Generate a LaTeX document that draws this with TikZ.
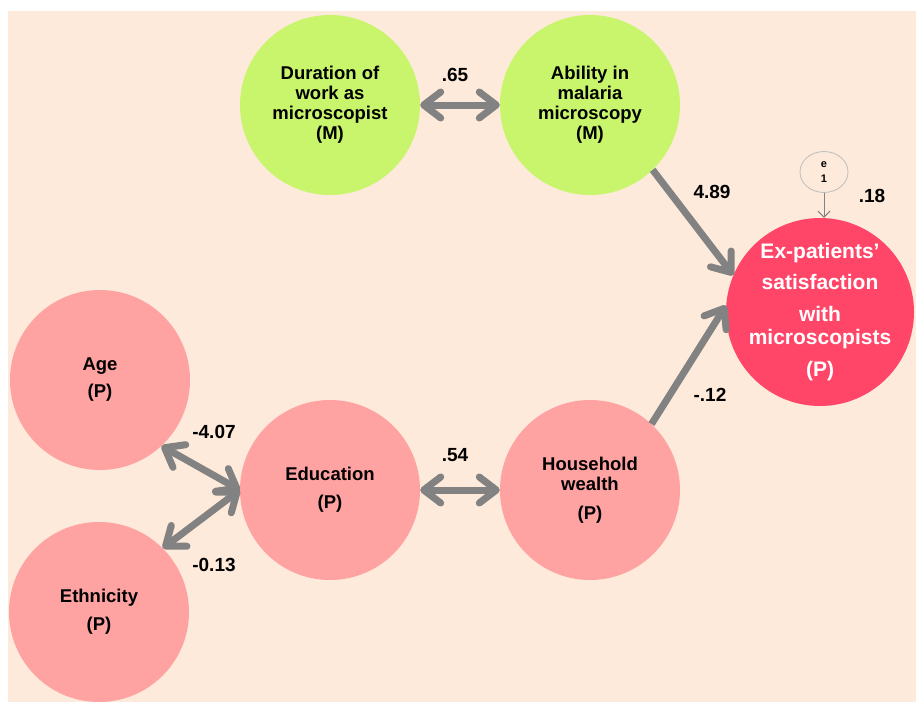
\documentclass[tikz,border=0pt]{standalone}
\usepackage{fontspec}
\setmainfont{Liberation Sans}
\usetikzlibrary{arrows.meta, shapes.geometric}

\definecolor{bgpeach}{HTML}{FDEADA}
\definecolor{limegreen}{HTML}{C8F56C}
\definecolor{softpink}{HTML}{FFA2A2}
\definecolor{hotred}{HTML}{FF4668}
\definecolor{arrowgrey}{HTML}{828282}
\definecolor{ringgrey}{HTML}{BDBDBD}

\tikzset{
  varbase/.style={circle, inner sep=-30pt, minimum size=180pt, align=center,
    font=\fontsize{18.5}{20}\selectfont\bfseries},
  measure/.style={varbase, fill=limegreen, text=black},
  person/.style={varbase, fill=softpink, text=black},
  outcome/.style={circle, inner sep=-40pt, minimum size=188pt, align=center,
    fill=hotred, text=white, font=\fontsize{21}{23}\selectfont\bfseries},
  errterm/.style={ellipse, draw=ringgrey, line width=0.8pt, minimum width=48pt,
    minimum height=41pt, inner sep=0pt, align=center,
    font=\fontsize{11}{15}\selectfont\bfseries},
  coef/.style={font=\fontsize{19}{20}\selectfont\bfseries},
  path/.style={draw=arrowgrey, line width=7pt,
    -{Straight Barb[length=17pt, width=26pt, round]}},
  covar/.style={draw=arrowgrey, line width=7pt,
    {Straight Barb[length=17pt, width=26pt, round]}-{Straight Barb[length=17pt, width=26pt, round]}},
  errpath/.style={draw=arrowgrey, line width=1pt,
    -{Straight Barb[length=6pt, width=12pt]}}
}

\begin{document}
\begin{tikzpicture}[x=1pt, y=-1pt]
  \useasboundingbox (0,0) rectangle (916,702);
  \fill[bgpeach] (8,11) rectangle (916,702);

  % variables
  \node[measure] (dur) at (330,105) {Duration of\\work as\\microscopist\\(M)};
  \node[measure] (abil) at (590,105) {Ability in\\malaria\\microscopy\\(M)};
  \node[outcome] (sat) at (820,312) {Ex-patients’\\[8pt]satisfaction\\[9pt]with\\microscopists\\[9pt](P)};
  \node[person] (age) at (100,380) {Age\\[7pt](P)};
  \node[person] (edu) at (330,490) {Education\\[8pt](P)};
  \node[person] (hh) at (590,490) {Household\\wealth\\[9pt](P)};
  \node[person] (eth) at (99,612) {Ethnicity\\[8pt](P)};
  \node[errterm] (e1) at (824,172) {e\\1};

  % connectors
  \draw[covar] (dur.east) -- (abil.west);
  \draw[path] (abil.-46) -- (sat.157);
  \draw[path] (hh.47) -- (sat.176);
  \draw[covar] (age.-47) -- (edu.west);
  \draw[covar] (eth.45) -- (edu.west);
  \draw[covar] (edu.east) -- (hh.west);
  \draw[errpath] (e1.south) -- (sat.north -| e1.south);

  % coefficients
  \node[coef] (c65) at (455,75) {.65};
  \node[coef] (c489) at (712,192) {4.89};
  \node[coef] (c18) at (872,196) {.18};
  \node[coef] (c407) at (214,432) {-4.07};
  \node[coef] (c013) at (214,565) {-0.13};
  \node[coef] (c54) at (455,455) {.54};
  \node[coef] (c12) at (710,395) {-.12};
\end{tikzpicture}
\end{document}
